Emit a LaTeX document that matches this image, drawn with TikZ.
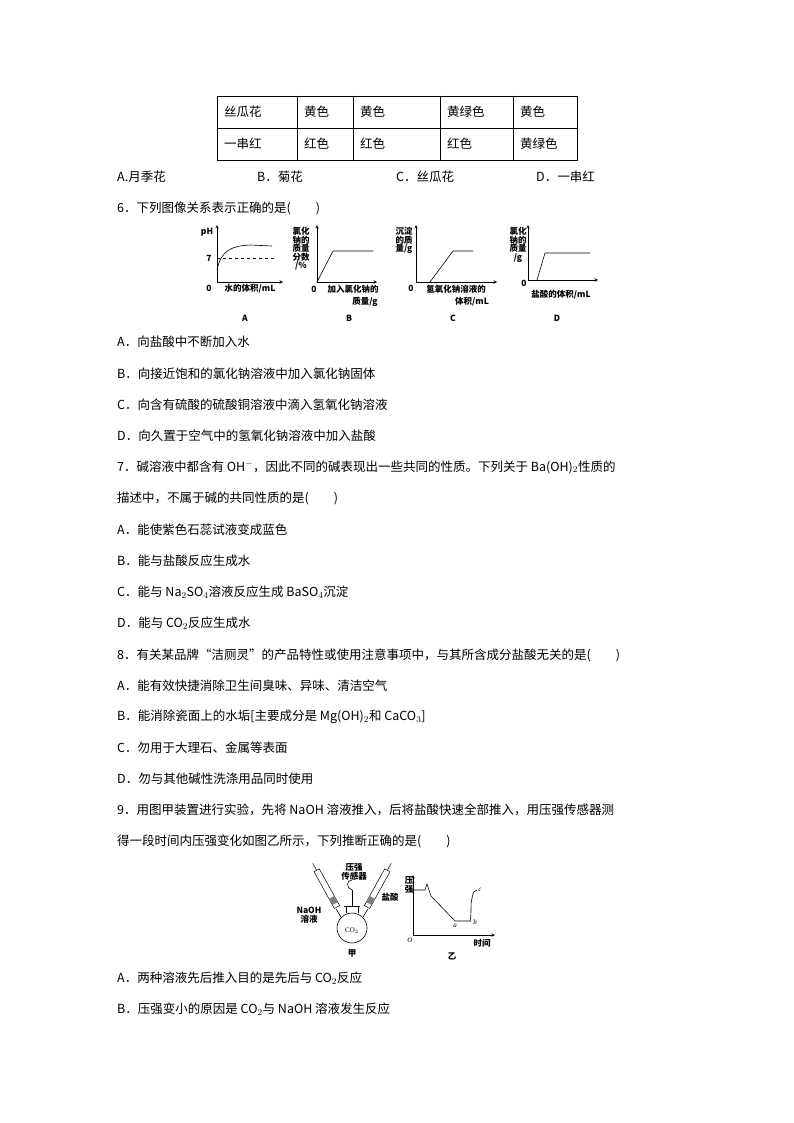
\documentclass[tikz,border=0pt]{standalone}
\usepackage{fontspec}
\setmainfont{Liberation Serif}
\newfontfamily\cjk{Noto Sans CJK SC}
\begin{document}
\begin{tikzpicture}[x=1pt,y=-1pt,
  txt/.style={anchor=west,inner sep=0,font=\cjk\fontsize{12.5}{14}\selectfont},
  sm/.style={inner sep=0,font=\cjk\bfseries\fontsize{8.5}{9.5}\selectfont,align=center},
  ax/.style={->,>=stealth,line width=0.6pt},
  crv/.style={line width=0.6pt}]
\useasboundingbox (0,0) rectangle (794,1123);
% table
\draw[line width=0.5pt] (217,96) rectangle (577,160);
\draw[line width=0.5pt] (217,128) -- (577,128);
\foreach \x in {297,353,440,513} \draw[line width=0.5pt] (\x,96) -- (\x,160);
\node[txt] (t11) at (224,112) {丝瓜花};
\node[txt] (t12) at (304,112) {黄色};
\node[txt] (t13) at (360,112) {黄色};
\node[txt] (t14) at (447,112) {黄绿色};
\node[txt] (t15) at (520,112) {黄色};
\node[txt] (t21) at (224,144) {一串红};
\node[txt] (t22) at (304,144) {红色};
\node[txt] (t23) at (360,144) {红色};
\node[txt] (t24) at (447,144) {红色};
\node[txt] (t25) at (520,144) {黄绿色};
\node[txt] (q5a) at (117,177) {A.月季花};
\node[txt] (q5b) at (257,177) {B．菊花};
\node[txt] (q5c) at (396,177) {C．丝瓜花};
\node[txt] (q5d) at (536,177) {D．一串红};
\node[txt] (q6) at (117,208) {6．下列图像关系表示正确的是(\hspace{2em})};
% graph A
\coordinate (oA) at (217,282);
\draw[ax] (oA) -- (217,225); \draw[ax] (oA) -- (283,282);
\draw[dashed,line width=0.5pt] (217,258) -- (275,258);
\draw[crv] (217,270) .. controls (221,250) and (232,246) .. (250,245) -- (272,246);
\node[sm] (pA) at (207,232) {pH};
\node[sm] (sA) at (209,258) {7};
\node[sm] (zA) at (209,288) {0};
\node[sm] (xA) at (250,289) {水的体积/mL};
\node[sm] (lA) at (245,318) {A};
% graph B
\coordinate (oB) at (317,282);
\draw[ax] (oB) -- (317,225); \draw[ax] (oB) -- (377,282);
\draw[crv] (oB) -- (333,251) -- (373,251);
\node[sm,anchor=north] (yB) at (301,227) {氯化\\[-1pt]钠的\\[-1pt]质量\\[-1pt]分数\\[-1pt]/\%};
\node[sm] (zB) at (314,289) {0};
\node[sm] (xB) at (353,289) {加入氯化钠的};
\node[sm] (xB2) at (365,302) {质量/g};
\node[sm] (lB) at (349,318) {B};
% graph C
\coordinate (oC) at (416,282);
\draw[ax] (oC) -- (416,225); \draw[ax] (oC) -- (497,282);
\draw[crv] (430,282) -- (453,251) -- (473,251);
\node[sm,anchor=north] (yC) at (404,227) {沉淀\\[-1pt]的质\\[-1pt]量/g};
\node[sm] (zC) at (411,288) {0};
\node[sm] (xC) at (456,289) {氢氧化钠溶液的};
\node[sm] (xC2) at (472,302) {体积/mL};
\node[sm] (lC) at (453,318) {C};
% graph D
\coordinate (oD) at (528,280);
\draw[ax] (oD) -- (528,225); \draw[ax] (oD) -- (598,280);
\draw[crv] (537,280) -- (545,253) -- (590,253);
\node[sm,anchor=north] (yD) at (518,227) {氯化\\[-1pt]钠的\\[-1pt]质量\\[-1pt]/g};
\node[sm] (zD) at (524,283) {0};
\node[sm] (xD) at (561,295) {盐酸的体积/mL};
\node[sm] (lD) at (557,318) {D};
% options
\node[txt] (a6) at (117,342) {A．向盐酸中不断加入水};
\node[txt] (b6) at (117,374) {B．向接近饱和的氯化钠溶液中加入氯化钠固体};
\node[txt] (c6) at (117,405) {C．向含有硫酸的硫酸铜溶液中滴入氢氧化钠溶液};
\node[txt] (d6) at (117,436) {D．向久置于空气中的氢氧化钠溶液中加入盐酸};
\node[txt] (q7) at (117,467) {7．碱溶液中都含有 OH$^-$，因此不同的碱表现出一些共同的性质。下列关于 Ba(OH)$_2$性质的};
\node[txt] (q7b) at (117,498) {描述中，不属于碱的共同性质的是(\hspace{2em})};
\node[txt] (a7) at (117,530) {A．能使紫色石蕊试液变成蓝色};
\node[txt] (b7) at (117,561) {B．能与盐酸反应生成水};
\node[txt] (c7) at (117,592) {C．能与 Na$_2$SO$_4$溶液反应生成 BaSO$_4$沉淀};
\node[txt] (d7) at (117,623) {D．能与 CO$_2$反应生成水};
\node[txt] (q8) at (117,655) {8．有关某品牌“洁厕灵”的产品特性或使用注意事项中，与其所含成分盐酸无关的是(\hspace{2em})};
\node[txt] (a8) at (117,686) {A．能有效快捷消除卫生间臭味、异味、清洁空气};
\node[txt] (b8) at (117,717) {B．能消除瓷面上的水垢[主要成分是 Mg(OH)$_2$和 CaCO$_3$]};
\node[txt] (c8) at (117,748) {C．勿用于大理石、金属等表面};
\node[txt] (d8) at (117,779) {D．勿与其他碱性洗涤用品同时使用};
\node[txt] (q9) at (117,810) {9．用图甲装置进行实验，先将 NaOH 溶液推入，后将盐酸快速全部推入，用压强传感器测};
\node[txt] (q9b) at (117,841) {得一段时间内压强变化如图乙所示，下列推断正确的是(\hspace{2em})};
% apparatus
\draw[line width=0.6pt] (346,913) -- (346,906) -- (358,906) -- (358,913);
\draw[line width=0.6pt] (352,928) circle (15);
\draw[line width=0.6pt] (341,917) -- (336,909); \draw[line width=0.6pt] (363,917) -- (368,909);
\draw[line width=0.6pt] (344,906) -- (360,906);
\draw[line width=0.6pt] (352,906) -- (352,890);
\draw[line width=0.6pt] (352,890) .. controls (346,888) and (346,880) .. (352,880);
\begin{scope}[shift={(337,907)},rotate=119]
\draw[line width=0.5pt] (0,-3) rectangle (42,3);
\fill[gray] (4,-3) rectangle (11,3);
\draw[line width=0.5pt] (42,0) -- (50,0);
\end{scope}
\begin{scope}[shift={(367,907)},rotate=61]
\draw[line width=0.5pt] (0,-3) rectangle (42,3);
\fill[gray] (4,-3) rectangle (11,3);
\draw[line width=0.5pt] (42,0) -- (50,0);
\end{scope}
\node[sm] (ps) at (354,872) {压强\\[-1pt]传感器};
\node[sm] (naoh) at (309,915) {NaOH\\[-1pt]溶液};
\node[sm] (hcl) at (390,897) {盐酸};
\node[font=\fontsize{7}{8}\selectfont,inner sep=0] (co2) at (352,931) {CO$_2$};
\node[sm] (jia) at (352,953) {甲};
% graph yi
\coordinate (oY) at (413,935);
\draw[ax] (oY) -- (413,875); \draw[ax] (oY) -- (495,935);
\draw[crv] (413,890) -- (425,890) -- (427,884) -- (431,896) -- (455,921) -- (471,921);
\draw[crv] (470,921) .. controls (472,912) and (470,905) .. (472,898) .. controls (473,892) and (475,890) .. (477,890);
\node[sm] (yy) at (409,885) {压\\[-1pt]强};
\node[font=\itshape\fontsize{7}{8}\selectfont,inner sep=0] (O) at (410,940) {O};
\node[font=\itshape\fontsize{7}{8}\selectfont,inner sep=0] (pa) at (455,926) {a};
\node[font=\itshape\fontsize{7}{8}\selectfont,inner sep=0] (pb) at (475,922) {b};
\node[font=\itshape\fontsize{7}{8}\selectfont,inner sep=0] (pc) at (480,890) {c};
\node[sm] (tm) at (482,943) {时间};
\node[sm] (yi) at (452,956) {乙};
\node[txt] (a9) at (117,978) {A．两种溶液先后推入目的是先后与 CO$_2$反应};
\node[txt] (b9) at (117,1009) {B．压强变小的原因是 CO$_2$与 NaOH 溶液发生反应};
\end{tikzpicture}
\end{document}
